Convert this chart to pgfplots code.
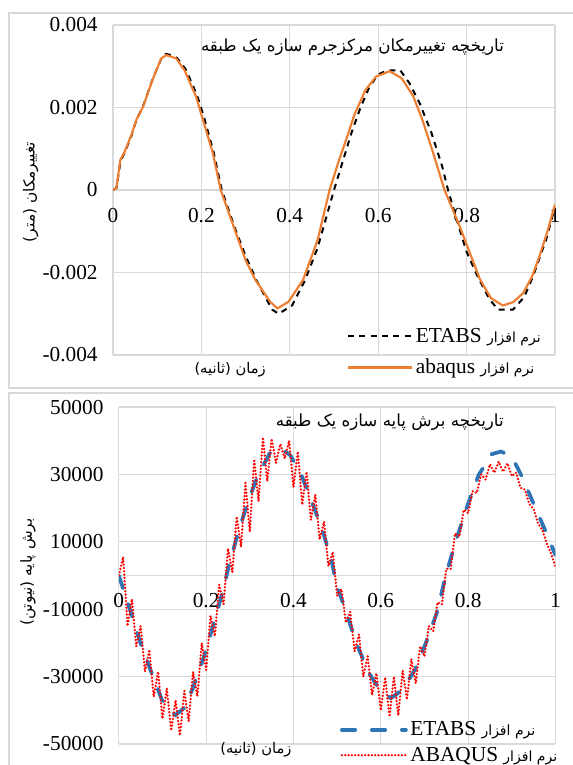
\documentclass[border=0pt]{standalone}
\usepackage{pgfplots}
\pgfplotsset{compat=1.18}
\usepackage{fontspec}
\setmainfont{Liberation Serif}
\newfontfamily\fa[Script=Arabic]{DejaVu Sans}
\TeXXeTstate=1
\definecolor{gridc}{HTML}{D9D9D9}
\definecolor{orng}{HTML}{ED7D31}
\definecolor{blu}{HTML}{2E75B6}
\definecolor{rd}{HTML}{FF0000}
\newcommand\pfont{\fontsize{16}{18}\selectfont}
\pgfplotsset{
  common/.style={
    scale only axis, xmin=0, xmax=1, scaled ticks=false, clip mode=individual,
    axis x line*=middle, axis y line*=left,
    x axis line style={draw=gridc, line width=0.9pt},
    y axis line style={draw=none},
    hide obscured x ticks=false, hide obscured y ticks=false,
    xtick={0,0.2,0.4,0.6,0.8,1}, xticklabels={0,0.2,0.4,0.6,0.8,1},
    major tick length=0pt, grid=major, grid style={gridc, line width=0.9pt},
    ticklabel style={font=\pfont},
    xticklabel style={yshift=-10pt}, yticklabel style={xshift=-8pt},
    legend cell align=left,
    legend image code/.code={\draw[#1] (0pt,0pt) -- (48pt,0pt);},
  }
}
\begin{document}
\begin{tikzpicture}
\useasboundingbox (0,0) rectangle (429.75pt,-573.75pt);
\draw[gridc, line width=1pt] (6.75pt,-9.75pt) rectangle (440pt,-291pt);
\draw[gridc, line width=1pt] (6.75pt,-294.75pt) rectangle (440pt,-580pt);

\begin{axis}[common, at={(84.75pt,-266.25pt)}, anchor=south west,
  width=331.5pt, height=247.5pt,
  ymin=-0.004, ymax=0.004,
  ytick={-0.004,-0.002,0,0.002,0.004}, yticklabels={-0.004,-0.002,0,0.002,0.004},
  legend style={at={(0.529,0.09)}, anchor=north west, draw=none, fill=none,
    font=\pfont, row sep=7pt, inner sep=0pt,
    /tikz/every even column/.append style={column sep=5pt}},
]
\addplot[black, line width=1.5pt, dash pattern=on 4.5pt off 4pt] coordinates {
(0,0) (0.008,0.00005) (0.017,0.0007) (0.027,0.00092) (0.042,0.00132) (0.053,0.0017)
(0.068,0.00203) (0.09,0.0027) (0.11,0.0032) (0.12,0.0033) (0.135,0.00326) (0.145,0.0032)
(0.165,0.00292) (0.19,0.0023) (0.205,0.0018) (0.228,0.0009) (0.246,0) (0.275,-0.0009)
(0.3,-0.0016) (0.325,-0.0022) (0.345,-0.0026) (0.36,-0.0029) (0.375,-0.003) (0.39,-0.0029)
(0.405,-0.0028) (0.434,-0.0022) (0.463,-0.0014) (0.5,0) (0.52,0.0007) (0.54,0.0014)
(0.56,0.002) (0.58,0.0025) (0.6,0.0028) (0.62,0.0029) (0.65,0.0029) (0.67,0.0026)
(0.694,0.0021) (0.72,0.0014) (0.744,0.0006) (0.758,0) (0.78,-0.0008) (0.8,-0.0015)
(0.825,-0.0021) (0.852,-0.00265) (0.871,-0.0029) (0.905,-0.0029) (0.93,-0.0026)
(0.95,-0.0021) (0.98,-0.0012) (1,-0.0004)
};
\addlegendentry{ETABS\hspace{4pt}{\fa\fontsize{10.5}{12}\selectfont\beginR نرم افزار\endR}}
\addplot[orng, line width=1.6pt] coordinates {
(0,0) (0.0075,0.00004) (0.0166,0.00073) (0.0264,0.00093) (0.0415,0.00133) (0.0528,0.0017)
(0.068,0.00202) (0.0905,0.0027) (0.109,0.00319) (0.1207,0.00327) (0.143,0.00319)
(0.162,0.0029) (0.188,0.00226) (0.2036,0.0017) (0.226,0.00089) (0.2437,0) (0.273,-0.00089)
(0.3,-0.0017) (0.322,-0.00218) (0.3556,-0.00271) (0.372,-0.00287) (0.397,-0.00271)
(0.43,-0.00218) (0.463,-0.00121) (0.49,0) (0.51,0.00068) (0.53,0.0013) (0.546,0.00182)
(0.571,0.00242) (0.595,0.00275) (0.626,0.00288) (0.653,0.00271) (0.679,0.00228)
(0.7,0.0017) (0.724,0.00091) (0.75,0) (0.784,-0.00087) (0.81,-0.0016) (0.83,-0.00216)
(0.855,-0.00262) (0.882,-0.0028) (0.905,-0.00272) (0.928,-0.0025) (0.948,-0.0021)
(0.965,-0.0016) (0.983,-0.001) (1,-0.00035)
};
\addlegendentry{abaqus\hspace{4pt}{\fa\fontsize{10.5}{12}\selectfont\beginR نرم افزار\endR}}
\node[anchor=east, inner sep=0pt] at (rel axis cs:0.885,0.933)
  {\fa\fontsize{12.5}{14}\selectfont\beginR تاریخچه تغییرمکان مرکزجرم سازه یک طبقه\endR};
\node[inner sep=0pt] at (rel axis cs:0.265,-0.045)
  {\fa\fontsize{11}{12}\selectfont\beginR زمان (ثانیه)\endR};
\node[inner sep=0pt, rotate=90] at (rel axis cs:-0.186,0.494)
  {\fa\fontsize{11.5}{13}\selectfont\beginR تغییرمکان (متر)\endR};
\end{axis}

\begin{axis}[common, at={(89.1pt,-558pt)}, anchor=south west,
  width=327.5pt, height=252.75pt,
  ymin=-50000, ymax=50000,
  ytick={-50000,-30000,-10000,10000,30000,50000},
  yticklabels={-50000,-30000,-10000,10000,30000,50000},
  legend style={at={(0.506,0.075)}, anchor=north west, draw=none, fill=none,
    font=\pfont, row sep=3pt, inner sep=0pt,
    /tikz/every even column/.append style={column sep=5pt}},
]
\addplot[blu, line width=2.8pt, dash pattern=on 10pt off 12.5pt, line cap=round] coordinates {
(0,0) (0.027,-10700) (0.0496,-20000) (0.0725,-28000) (0.099,-37000) (0.115,-40000)
(0.13,-41400) (0.149,-39400) (0.168,-34000) (0.195,-24100) (0.218,-14000) (0.24,-3800)
(0.253,3500) (0.274,13000) (0.297,22400) (0.319,29800) (0.346,36300) (0.369,37700)
(0.392,35800) (0.415,30800) (0.442,21900) (0.465,14000) (0.487,4600) (0.498,-2500)
(0.519,-10200) (0.544,-20100) (0.573,-29000) (0.598,-34000) (0.623,-36400) (0.649,-34000)
(0.678,-28000) (0.703,-20100) (0.728,-11200) (0.746,-1500) (0.758,4100) (0.775,11500)
(0.799,21000) (0.824,29800) (0.854,36000) (0.875,36800) (0.9,35300) (0.925,28900)
(0.954,20000) (0.983,11500) (1,6000)
};
\addlegendentry{ETABS\hspace{4pt}{\fa\fontsize{10.5}{12}\selectfont\beginR نرم افزار\endR}}
\addplot[rd, line width=1.9pt, dash pattern=on 0pt off 2.5pt, line cap=round] coordinates {
(0,0) (0.01,5500) (0.02,-15000) (0.03,-7000) (0.04,-21000) (0.05,-15000) (0.06,-28500)
(0.07,-22000) (0.08,-36000) (0.09,-28500) (0.10,-42500) (0.11,-33500) (0.12,-46000)
(0.13,-37000) (0.14,-47500) (0.15,-34200) (0.16,-43300) (0.17,-28500) (0.18,-35800)
(0.19,-20000) (0.20,-28000) (0.21,-12000) (0.22,-18000) (0.23,-2700) (0.24,-8500)
(0.25,8000) (0.26,1000) (0.27,17500) (0.28,8500) (0.29,27500) (0.30,13000) (0.31,34500)
(0.32,22000) (0.33,41000) (0.34,28000) (0.35,40600) (0.36,33400) (0.37,39000) (0.38,34700)
(0.39,40000) (0.40,26200) (0.41,36800) (0.42,21000) (0.43,30800) (0.44,16500) (0.45,24000)
(0.46,10700) (0.47,16000) (0.48,2800) (0.49,7000) (0.50,-6000) (0.51,-4000) (0.52,-14000)
(0.53,-10800) (0.54,-22500) (0.55,-17500) (0.56,-30000) (0.57,-24000) (0.58,-35500)
(0.59,-29000) (0.60,-40000) (0.61,-30200) (0.62,-41900) (0.63,-30000) (0.64,-41500)
(0.65,-28200) (0.66,-36800) (0.67,-24800) (0.68,-32000) (0.69,-21000) (0.70,-24000)
(0.71,-15000) (0.72,-16500) (0.73,-8000) (0.74,-8500) (0.75,2000) (0.76,2000)
(0.77,12500) (0.78,11500) (0.79,19500) (0.80,18500) (0.81,25000) (0.82,24500)
(0.83,30000) (0.84,28500) (0.85,33000) (0.86,30500) (0.87,33800) (0.88,30800)
(0.89,33300) (0.90,29500) (0.91,30500) (0.92,26000) (0.93,25500) (0.94,21200)
(0.95,19800) (0.96,15500) (0.97,13500) (0.98,9500) (0.99,6500) (1.00,2600)
};
\addlegendentry{ABAQUS\hspace{4pt}{\fa\fontsize{10.5}{12}\selectfont\beginR نرم افزار\endR}}
\node[anchor=east, inner sep=0pt] at (rel axis cs:0.882,0.955)
  {\fa\fontsize{12.5}{14}\selectfont\beginR تاریخچه برش پایه سازه یک طبقه\endR};
\node[inner sep=0pt] at (rel axis cs:0.314,-0.018)
  {\fa\fontsize{11}{12}\selectfont\beginR زمان (ثانیه)\endR};
\node[inner sep=0pt, rotate=90] at (rel axis cs:-0.208,0.51)
  {\fa\fontsize{11.5}{13}\selectfont\beginR برش پایه (نیوتن)\endR};
\end{axis}
\end{tikzpicture}
\end{document}
